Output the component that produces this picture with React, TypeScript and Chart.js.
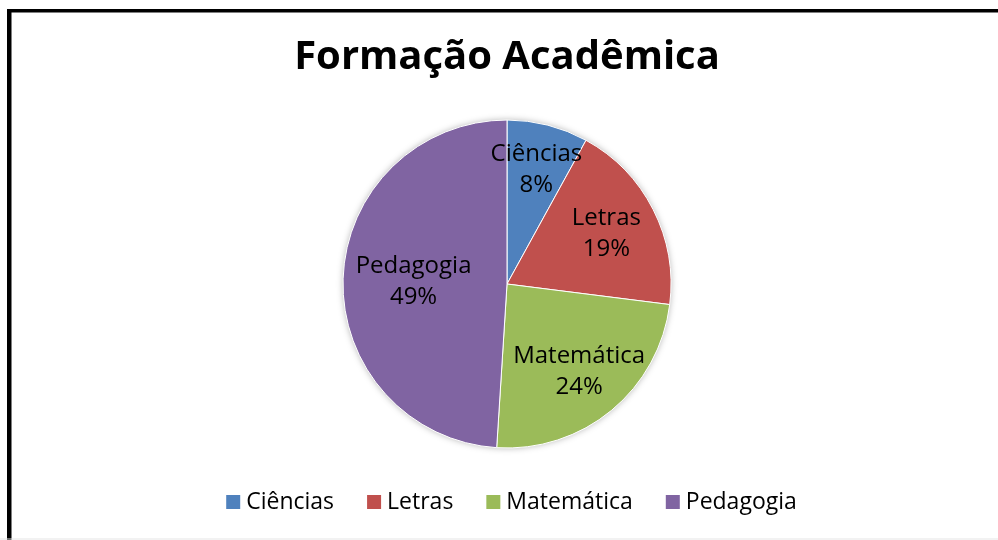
import React, { useEffect, useRef } from "react";
import { Chart, registerables } from "chart.js";

Chart.register(...registerables);

const categories = ["Ciências", "Letras", "Matemática", "Pedagogia"];
const values = [8, 19, 24, 49];
const colors = ["#4F81BD", "#C0504D", "#9BBB59", "#8064A2"];
const titleText = "Formação Acadêmica";

const FONT = "'Open Sans', 'Noto Sans', sans-serif";

const framePlugin = {
  id: "frame",
  beforeDraw(chart: any) {
    const ctx = chart.ctx;
    ctx.save();
    ctx.fillStyle = "#ffffff";
    ctx.fillRect(0, 0, chart.width, chart.height);
    ctx.fillStyle = "#000000";
    ctx.fillRect(7, 9, chart.width, 3.5);
    ctx.fillRect(7, 9, 4.5, chart.height);
    ctx.fillStyle = "#e6e6e6";
    ctx.fillRect(0, 538.5, chart.width, 1);
    ctx.restore();
  },
};

const shadowPlugin = {
  id: "pieShadow",
  beforeDatasetsDraw(chart: any) {
    const arc = chart.getDatasetMeta(0).data[0];
    if (!arc) return;
    const { x, y, outerRadius } = arc.getProps(["x", "y", "outerRadius"], true);
    const ctx = chart.ctx;
    ctx.save();
    ctx.shadowColor = "rgba(0,0,0,0.35)";
    ctx.shadowBlur = 7;
    ctx.shadowOffsetX = 0;
    ctx.shadowOffsetY = 0;
    ctx.fillStyle = "#ffffff";
    ctx.beginPath();
    ctx.arc(x, y, outerRadius - 0.5, 0, Math.PI * 2);
    ctx.fill();
    ctx.restore();
  },
};

const labelPlugin = {
  id: "sliceLabels",
  afterDatasetsDraw(chart: any, _args: any, opts: any) {
    const ctx = chart.ctx;
    const meta = chart.getDatasetMeta(0);
    const data = chart.data.datasets[0].data as number[];
    const total = data.reduce((a, b) => a + b, 0);
    const factors: number[] = opts.factors || [];
    ctx.save();
    ctx.fillStyle = "#000000";
    ctx.font = `24px ${FONT}`;
    ctx.textAlign = "center";
    ctx.textBaseline = "middle";
    meta.data.forEach((arc: any, i: number) => {
      const { x, y, startAngle, endAngle, outerRadius } = arc.getProps(
        ["x", "y", "startAngle", "endAngle", "outerRadius"],
        true
      );
      const mid = (startAngle + endAngle) / 2;
      const r = outerRadius * (factors[i] ?? 0.7);
      const cx = x + Math.cos(mid) * r;
      const cy = y + Math.sin(mid) * r;
      const pct = Math.round((data[i] / total) * 100) + "%";
      ctx.fillText(String(chart.data.labels[i]), cx, cy - 15);
      ctx.fillText(pct, cx, cy + 16);
    });
    ctx.restore();
  },
};

// custom legend (square, small gap, text)
const legendPlugin = {
  id: "customLegend",
  afterDraw(chart: any, _args: any, opts: any) {
    const ctx = chart.ctx;
    const labels = chart.data.labels as string[];
    const bg = chart.data.datasets[0].backgroundColor as string[];
    const box = opts.box ?? 14;
    const gap = opts.gap ?? 6;
    const spacing = opts.spacing ?? 33;
    ctx.save();
    ctx.font = `${opts.fontSize ?? 23}px ${FONT}`;
    ctx.textBaseline = "middle";
    ctx.textAlign = "left";
    const widths = labels.map((l) => ctx.measureText(l).width);
    const total =
      widths.reduce((a, w) => a + box + gap + w, 0) + spacing * (labels.length - 1);
    const area = chart.chartArea;
    let x = (area.left + area.right) / 2 + (opts.offsetX ?? 0) - total / 2;
    const y = opts.y ?? 502;
    labels.forEach((l, i) => {
      ctx.fillStyle = bg[i];
      ctx.fillRect(x, y - box / 2, box, box);
      ctx.fillStyle = "#000000";
      ctx.fillText(l, x + box + gap, y);
      x += box + gap + widths[i] + spacing;
    });
    ctx.restore();
  },
};

export default function App() {
  const ref = useRef<HTMLCanvasElement>(null);
  useEffect(() => {
    if (!ref.current) return;
    const chart = new Chart(ref.current, {
      type: "pie",
      data: {
        labels: categories,
        datasets: [
          {
            data: values,
            backgroundColor: colors,
            borderColor: "#ffffff",
            borderWidth: 1,
            radius: 164,
          } as any,
        ],
      },
      options: {
        responsive: false,
        animation: false,
        layout: { padding: { left: 16, right: 0, top: 0, bottom: 64 } },
        plugins: {
          title: {
            display: true,
            text: titleText,
            color: "#000000",
            font: { family: FONT, size: 40, weight: "bold" },
            padding: { top: 34, bottom: 10 },
          },
          legend: { display: false },
          tooltip: { enabled: false },
          sliceLabels: { factors: [0.72, 0.68, 0.69, 0.57] },
          customLegend: { box: 14, gap: 6, spacing: 33, fontSize: 23, y: 502, offsetX: 4.5 },
        } as any,
      },
      plugins: [framePlugin, shadowPlugin, labelPlugin, legendPlugin],
    });
    return () => chart.destroy();
  }, []);
  return (
    <div style={{ position: "absolute", left: 0, top: 0, width: 998, height: 540 }}>
      <canvas ref={ref} width={998} height={540} />
    </div>
  );
}
